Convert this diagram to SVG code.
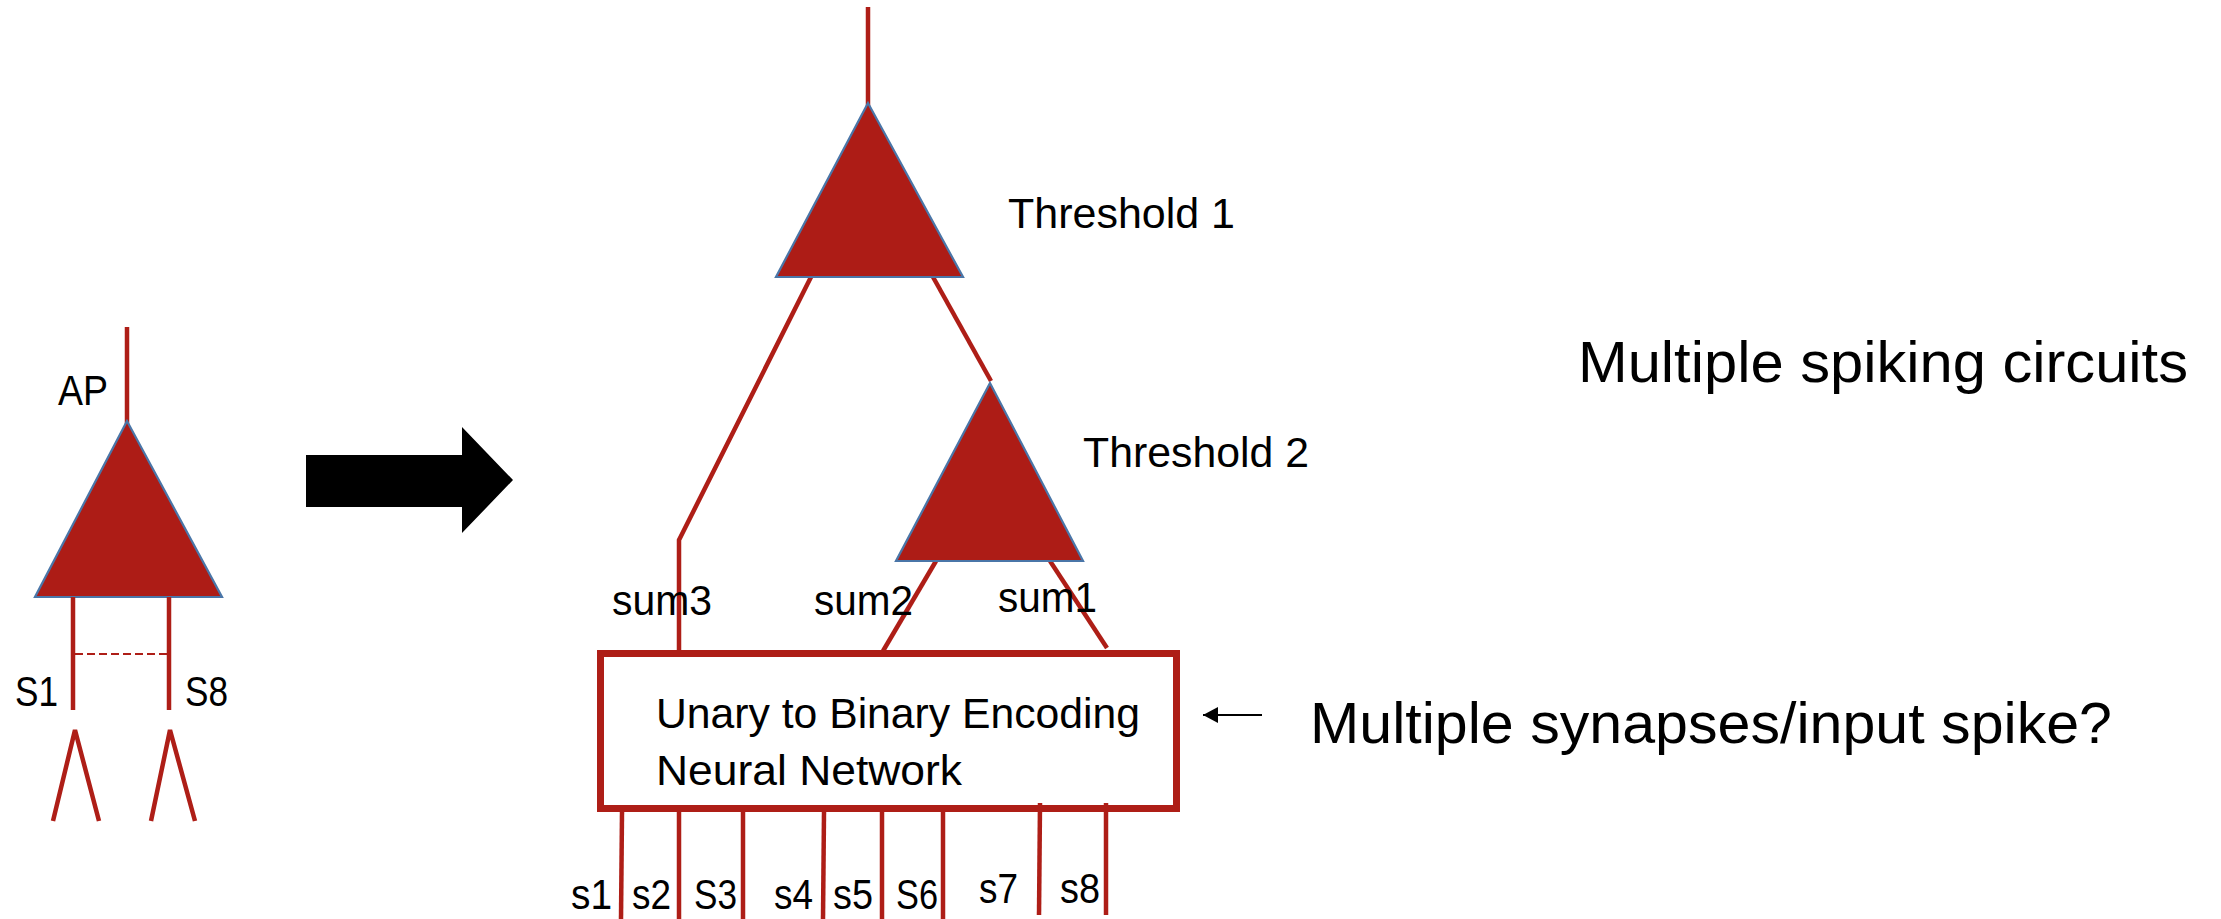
<svg xmlns="http://www.w3.org/2000/svg" width="2221" height="919" viewBox="0 0 2221 919">
  <defs>
    <style>
      .wire { stroke: #AE1E17; stroke-width: 4.5; fill: none; stroke-linecap: butt; }
      .tri { fill: #AD1C16; stroke: #4A76A8; stroke-width: 2.2; stroke-linejoin: miter; }
      .lbl { font-family: "Liberation Sans", Arial, sans-serif; font-size: 42px; fill: #000; }
      .big { font-family: "Liberation Sans", Arial, sans-serif; font-size: 57px; fill: #000; }
    </style>
    <marker id="ah" markerWidth="16" markerHeight="16" refX="15" refY="8" orient="auto" markerUnits="userSpaceOnUse">
      <path d="M0,0 L15,8 L0,16 Z" fill="#000"/>
    </marker>
  </defs>
  <rect width="2221" height="919" fill="#fff"/>

  <!-- Left: single neuron -->
  <g id="neuron-left">
    <line class="wire" x1="127" y1="327" x2="127" y2="424"/>
    <polygon class="tri" points="127,421 35,597 222,597"/>
    <line class="wire" x1="73" y1="597" x2="73" y2="710"/>
    <line class="wire" x1="169" y1="597" x2="169" y2="710"/>
    <line x1="75" y1="654" x2="167" y2="654" stroke="#AE1E17" stroke-width="2" stroke-dasharray="8,4"/>
    <polyline class="wire" points="53,821 75,730 99,821"/>
    <polyline class="wire" points="151,821 170,730 195,821"/>
    <text class="lbl" x="58" y="405" textLength="50" lengthAdjust="spacingAndGlyphs">AP</text>
    <text class="lbl" x="15" y="706" textLength="43" lengthAdjust="spacingAndGlyphs">S1</text>
    <text class="lbl" x="185" y="706" textLength="43" lengthAdjust="spacingAndGlyphs">S8</text>
  </g>

  <!-- Big block arrow -->
  <g id="big-arrow">
    <polygon points="306,455 462,455 462,427 513,480 462,533 462,507 306,507" fill="#000"/>
  </g>

  <!-- Connectors -->
  <g id="connectors">
    <line class="wire" x1="868" y1="7" x2="868" y2="106"/>
    <polyline class="wire" points="811,277 679,540 679,652"/>
    <line class="wire" x1="933" y1="277" x2="991" y2="381"/>
    <line class="wire" x1="936" y1="561" x2="883" y2="651"/>
    <line class="wire" x1="1050" y1="561" x2="1107" y2="648"/>
    <line class="wire" x1="622" y1="812" x2="621" y2="919"/>
    <line class="wire" x1="679" y1="812" x2="679" y2="919"/>
    <line class="wire" x1="743" y1="812" x2="743" y2="919"/>
    <line class="wire" x1="824" y1="812" x2="823" y2="919"/>
    <line class="wire" x1="882" y1="812" x2="882" y2="919"/>
    <line class="wire" x1="943" y1="812" x2="943" y2="919"/>
    <line class="wire" x1="1040" y1="803" x2="1039" y2="915"/>
    <line class="wire" x1="1106" y1="803" x2="1106" y2="915"/>
    <line x1="1262" y1="715" x2="1203" y2="715" stroke="#000" stroke-width="2" marker-end="url(#ah)"/>
  </g>

  <!-- Threshold 1 neuron -->
  <g id="threshold1">
    <polygon class="tri" points="868,103 776,277 963,277"/>
    <text class="lbl" x="1008" y="228" textLength="227" lengthAdjust="spacingAndGlyphs">Threshold 1</text>
  </g>

  <!-- Threshold 2 neuron -->
  <g id="threshold2">
    <polygon class="tri" points="990,383 896,561 1083,561"/>
    <text class="lbl" x="1083" y="467" textLength="226" lengthAdjust="spacingAndGlyphs">Threshold 2</text>
  </g>

  <!-- Encoder box -->
  <g id="encoder">
    <rect x="600.5" y="653.5" width="576" height="155" fill="none" stroke="#AE1E17" stroke-width="7"/>
    <text class="lbl" x="656" y="728" textLength="484" lengthAdjust="spacingAndGlyphs">Unary to Binary Encoding</text>
    <text class="lbl" x="656" y="785" textLength="306" lengthAdjust="spacingAndGlyphs">Neural Network</text>
  </g>

  <!-- Sum labels -->
  <g id="sum-labels">
    <text class="lbl" x="612" y="615" textLength="100" lengthAdjust="spacingAndGlyphs">sum3</text>
    <text class="lbl" x="814" y="615" textLength="99" lengthAdjust="spacingAndGlyphs">sum2</text>
    <text class="lbl" x="998" y="612" textLength="99" lengthAdjust="spacingAndGlyphs">sum1</text>
  </g>

  <!-- Input labels -->
  <g id="input-labels">
    <text class="lbl" x="571" y="909" textLength="41" lengthAdjust="spacingAndGlyphs">s1</text>
    <text class="lbl" x="632" y="909" textLength="39" lengthAdjust="spacingAndGlyphs">s2</text>
    <text class="lbl" x="694" y="909" textLength="43" lengthAdjust="spacingAndGlyphs">S3</text>
    <text class="lbl" x="774" y="909" textLength="39" lengthAdjust="spacingAndGlyphs">s4</text>
    <text class="lbl" x="833" y="909" textLength="40" lengthAdjust="spacingAndGlyphs">s5</text>
    <text class="lbl" x="896" y="909" textLength="42" lengthAdjust="spacingAndGlyphs">S6</text>
    <text class="lbl" x="979" y="903" textLength="39" lengthAdjust="spacingAndGlyphs">s7</text>
    <text class="lbl" x="1060" y="903" textLength="40" lengthAdjust="spacingAndGlyphs">s8</text>
  </g>

  <!-- Notes -->
  <g id="notes">
    <text class="big" x="1578" y="382" textLength="610" lengthAdjust="spacingAndGlyphs">Multiple spiking circuits</text>
    <text class="big" x="1310" y="743" textLength="802" lengthAdjust="spacingAndGlyphs">Multiple synapses/input spike?</text>
  </g>
</svg>
